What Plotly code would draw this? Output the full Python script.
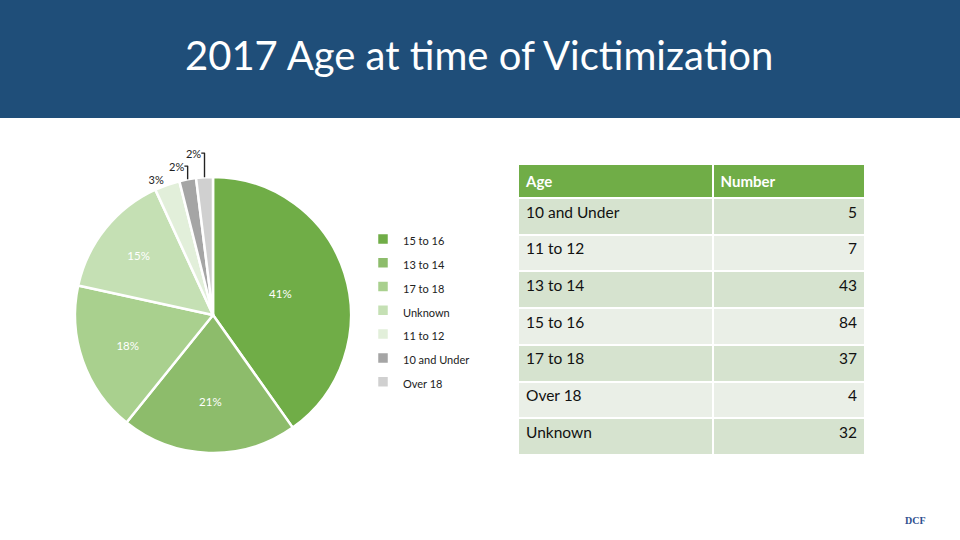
import plotly.graph_objects as go

# ---- data ----
pie_labels = ["15 to 16", "13 to 14", "17 to 18", "Unknown", "11 to 12", "10 and Under", "Over 18"]
pie_pct = [41, 21, 18, 15, 3, 2, 2]
pie_colors = ["#70AD47", "#8DBC6B", "#A9D08E", "#C5E0B4", "#E2EFDA", "#A5A5A5", "#D0D0D0"]

table_age = ["10 and Under", "11 to 12", "13 to 14", "15 to 16", "17 to 18", "Over 18", "Unknown"]
table_number = [5, 7, 43, 84, 37, 4, 32]
table_header = ["Age", "Number"]

title_text = "2017 Age at time of Victimization"

W, H = 960, 540
FONT = "Lato"

def px_x(x):
    return x / W

def px_y(y):
    return 1 - y / H

fig = go.Figure()

legend_labels = ["<span style='font-size:11px'>%s</span>" % l for l in pie_labels]

fig.add_trace(go.Pie(
    labels=legend_labels,
    values=pie_pct,
    sort=False,
    direction="clockwise",
    rotation=0,
    marker=dict(colors=pie_colors, line=dict(color="white", width=2.5)),
    texttemplate="%{value}%",
    textposition=["inside", "inside", "inside", "inside", "outside", "outside", "outside"],
    insidetextorientation="horizontal",
    insidetextfont=dict(color="white", size=11.5, family=FONT),
    outsidetextfont=dict(color="#222222", size=11, family=FONT),
    domain=dict(x=[px_x(75), px_x(351)], y=[px_y(453), px_y(177)]),
    hoverinfo="skip",
    showlegend=True,
))

row_fill = ["#D6E3CF" if i % 2 == 0 else "#EAEFE7" for i in range(len(table_age))]

fig.add_trace(go.Table(
    domain=dict(x=[px_x(518), px_x(865)], y=[px_y(456), px_y(164)]),
    columnwidth=[194, 152],
    header=dict(
        values=["<b>%s</b>" % h for h in table_header],
        fill_color="#70AD47",
        line=dict(color="white", width=2),
        font=dict(color="white", size=15, family=FONT),
        align="left",
        height=34,
    ),
    cells=dict(
        values=[table_age, table_number],
        fill_color=[row_fill, row_fill],
        line=dict(color="white", width=2),
        font=dict(color="#111111", size=15.5, family=FONT),
        align=["left", "right"],
        height=36.7,
    ),
))

fig.update_layout(
    width=W, height=H,
    margin=dict(l=0, r=0, t=0, b=0),
    paper_bgcolor="white",
    plot_bgcolor="white",
    showlegend=True,
    legend=dict(
        x=px_x(363), y=px_y(222), xanchor="left", yanchor="top",
        font=dict(size=16, family=FONT, color="#222222"),
        bgcolor="rgba(0,0,0,0)",
    ),
    shapes=[dict(type="rect", xref="paper", yref="paper", x0=0, x1=1,
                 y0=px_y(118), y1=1, fillcolor="#1F4E79", line=dict(width=0), layer="below")],
    annotations=[
        dict(text=title_text, xref="paper", yref="paper", x=px_x(479), y=px_y(55),
             xanchor="center", yanchor="middle", showarrow=False,
             font=dict(color="white", size=40, family=FONT)),
        dict(text="<b>DCF</b>", xref="paper", yref="paper", x=px_x(915), y=px_y(520),
             xanchor="center", yanchor="middle", showarrow=False,
             font=dict(color="#2F4F8F", size=10, family="Liberation Serif")),
    ],
)

fig.write_html(
    "out.html",
    config={"displayModeBar": False},
    post_script="document.body.style.margin='0';document.body.style.overflow='hidden';",
)
